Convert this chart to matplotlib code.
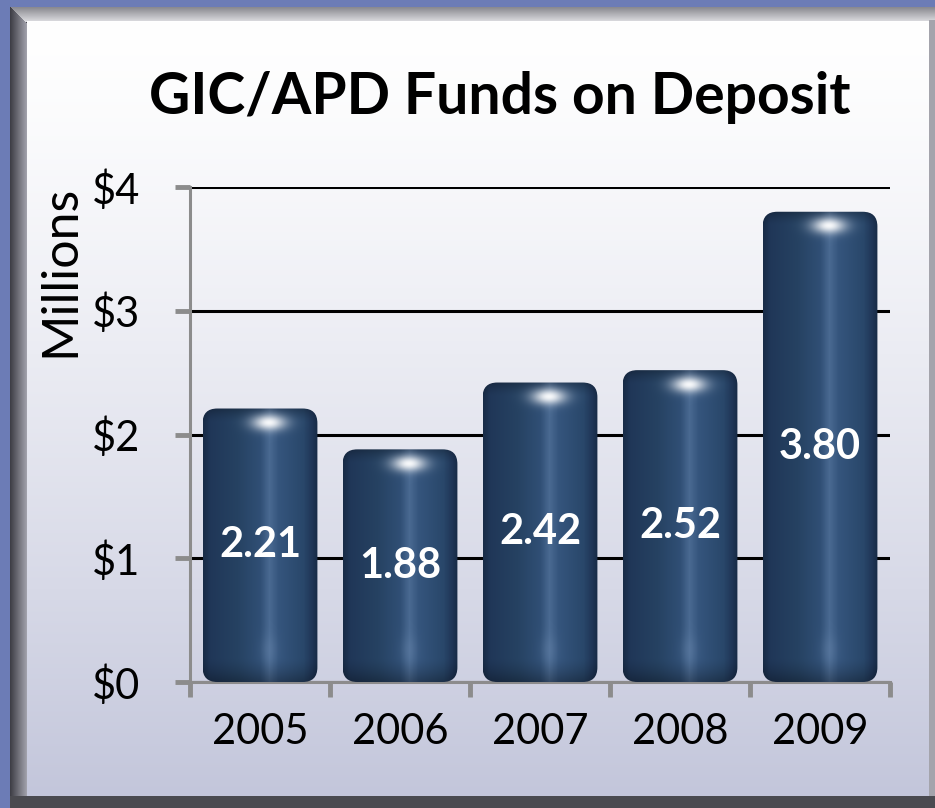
import numpy as np
import matplotlib
matplotlib.use('Agg')
import matplotlib.pyplot as plt
from matplotlib.patches import FancyBboxPatch
from matplotlib.colors import to_rgb, LinearSegmentedColormap

# ---------------- data ----------------
years = ['2005', '2006', '2007', '2008', '2009']
values = [2.21, 1.88, 2.42, 2.52, 3.80]
value_labels = ['2.21', '1.88', '2.42', '2.52', '3.80']
ytick_vals = [0, 1, 2, 3, 4]
ytick_labels = ['$0', '$1', '$2', '$3', '$4']
title = 'GIC/APD Funds on Deposit'
ylabel = 'Millions'

FONT = ['Lato', 'DejaVu Sans']
plt.rcParams['font.family'] = FONT

W, H = 935, 808
fig = plt.figure(figsize=(W / 100, H / 100), dpi=100)

# ---------------- background frame ----------------
bg = fig.add_axes([0, 0, 1, 1], zorder=-10)
bg.axis('off')
img = np.zeros((H, W, 3))
img[:] = to_rgb('#6c7cb6')
img[7:, 10:] = to_rgb('#4a4a52')
for y in range(7, 22):
    t = (y - 7) / 14
    c = np.array(to_rgb('#8a8a90')) * (1 - t) + np.array(to_rgb('#dcdce0')) * t
    img[y, 10 + (y - 7):] = c
for x in range(10, 27):
    t = (x - 10) / 16
    c = np.array(to_rgb('#3e3e46')) * (1 - t) + np.array(to_rgb('#a0a0aa')) * t
    img[7 + (x - 10):797, x] = c
img[20:797, 929:] = to_rgb('#a4a4ac')
top = np.array(to_rgb('#ffffff'))
bot = np.array(to_rgb('#c3c6db'))
ys = np.arange(21, 796)
t = ((ys - 21) / (796 - 21)) ** 1.3
grad = top[None, :] * (1 - t[:, None]) + bot[None, :] * t[:, None]
img[21:796, 27:929] = grad[:, None, :]
img[796:, 10:] = to_rgb('#4a4a50')
bg.imshow(img, extent=(0, 1, 0, 1), aspect='auto', interpolation='bilinear')
bg.set_xlim(0, 1)
bg.set_ylim(0, 1)

# ---------------- main axes ----------------
ax = fig.add_axes([190 / W, 1 - 682 / H, 700 / W, 495 / H])
ax.patch.set_alpha(0)
x = np.arange(len(years))
bars = ax.bar(x, values, width=0.82, color='none', edgecolor='none', zorder=3)
ax.set_xlim(-0.5, len(years) - 0.5)
ax.set_ylim(0, 4)

ax.set_yticks(ytick_vals)
ax.set_yticklabels(ytick_labels, fontsize=30)
ax.set_xticks(x)
ax.set_xticklabels(years, fontsize=30)
ax.set_xticks(np.arange(-0.5, len(years)), minor=True)
ax.tick_params(axis='x', which='major', length=0, pad=22)
ax.tick_params(axis='x', which='minor', length=11, width=3.5, color='#8c8c8c')
ax.tick_params(axis='y', length=11, width=3.5, color='#8c8c8c', pad=25)

ax.yaxis.grid(True, color='black', lw=2.2)
ax.set_axisbelow(True)
for s in ['top', 'right']:
    ax.spines[s].set_visible(False)
for s in ['left', 'bottom']:
    ax.spines[s].set_color('#8c8c8c')
    ax.spines[s].set_linewidth(2.2)

hcols = [(0.00, '#182c47'), (0.06, '#203758'), (0.30, '#264262'),
         (0.50, '#304f75'), (0.58, '#4a6a92'), (0.66, '#35557d'),
         (0.88, '#29476a'), (0.96, '#1f3556'), (1.00, '#182c47')]
cmap = LinearSegmentedColormap.from_list('cyl', hcols)
px_x = 700 / 5.0
px_y = 495 / 4.0

for rect, v in zip(bars, values):
    x0, w, h = rect.get_x(), rect.get_width(), rect.get_height()
    nx = int(round(w * px_x))
    ny = max(int(round(h * px_y)), 2)
    u = np.linspace(0, 1, nx)
    prof = cmap(u)[:, :3]
    im = np.repeat(prof[None, :, :], ny, axis=0)
    py = np.arange(ny)[:, None]
    pb = (ny - 1 - py)
    dark_top = np.clip(1 - py / 14.0, 0, 1) ** 1.5 * 0.25
    dark_bot = np.clip(1 - pb / 24.0, 0, 1) ** 1.5 * 0.30
    im = im * (1 - dark_top - dark_bot)[:, :, None]
    cx = 0.57 * nx
    cy = 14
    d = ((np.arange(nx)[None, :] - cx) / 19.0) ** 2 + ((py - cy) / 9.0) ** 2
    spot = np.exp(-d * 1.3) * 0.95
    im = im * (1 - spot[:, :, None]) + np.ones(3)[None, None, :] * spot[:, :, None]
    d2 = ((np.arange(nx)[None, :] - cx) / 9.0) ** 2 + ((pb - 32) / 14.0) ** 2
    sheen = np.exp(-d2) * 0.18
    im = im * (1 - sheen[:, :, None]) + np.array(to_rgb('#85a2c6'))[None, None, :] * sheen[:, :, None]
    im = np.clip(im, 0, 1)

    patch = FancyBboxPatch((x0, 0), w, h,
                           boxstyle='round,pad=0,rounding_size=0.105',
                           mutation_aspect=1.13,
                           facecolor='none', edgecolor='none', zorder=3)
    ax.add_patch(patch)
    ai = ax.imshow(im, extent=(x0, x0 + w, 0, h), aspect='auto',
                   interpolation='bilinear', zorder=3)
    ai.set_clip_path(patch)

for xi, v, lab in zip(x, values, value_labels):
    ax.text(xi, v / 2, lab, ha='center', va='center', color='white',
            fontsize=30, fontweight='bold', zorder=5)

ax.set_xlim(-0.5, len(years) - 0.5)
ax.set_ylim(0, 4)

fig.text(500 / W, 1 - 97 / H, title, ha='center', va='center',
         fontsize=41, fontweight='bold', color='black')
fig.text(60 / W, 1 - 271 / H, ylabel, ha='center', va='center',
         rotation=90, fontsize=36, color='black')

fig.savefig('out.png', dpi=100)
